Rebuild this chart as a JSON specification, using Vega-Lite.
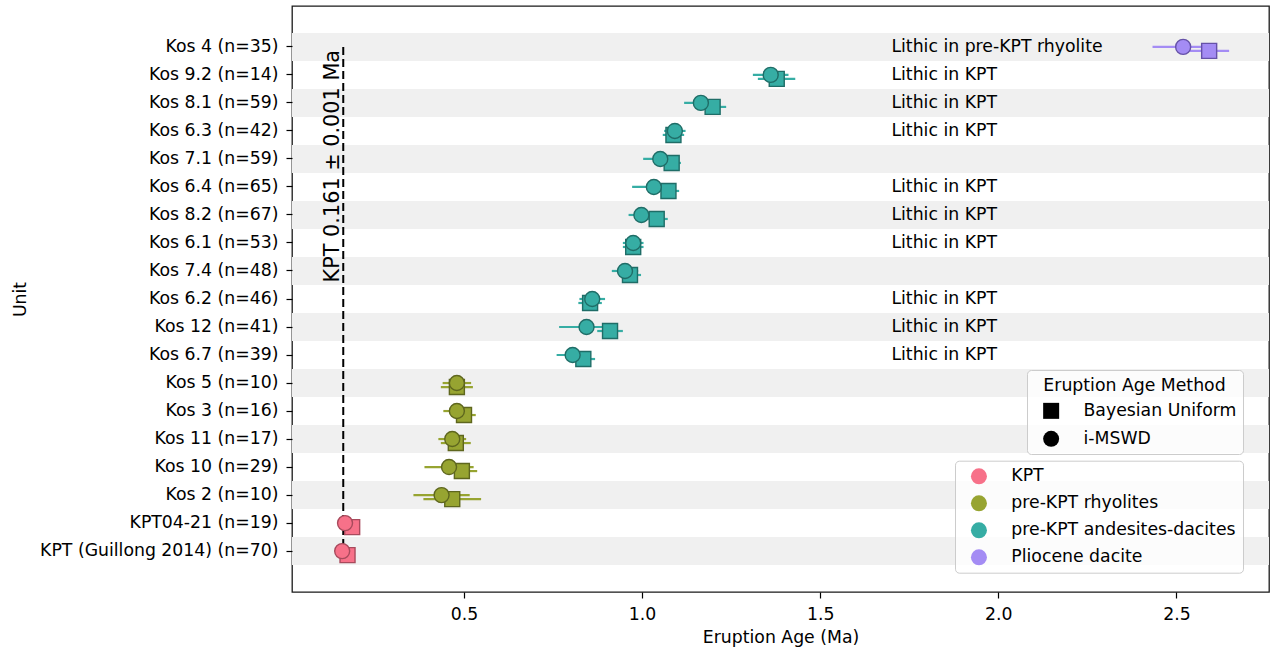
{
  "$schema": "https://vega.github.io/schema/vega-lite/v6.json",
  "width": 977,
  "height": 586,
  "autosize": {"type": "none"},
  "padding": {"left": 292, "top": 6, "right": 1, "bottom": 55},
  "background": "white",
  "datasets": {
    "units": [
      {"unit": "Kos 4 (n=35)"}, {"unit": "Kos 9.2 (n=14)"}, {"unit": "Kos 8.1 (n=59)"}, {"unit": "Kos 6.3 (n=42)"},
      {"unit": "Kos 7.1 (n=59)"}, {"unit": "Kos 6.4 (n=65)"}, {"unit": "Kos 8.2 (n=67)"}, {"unit": "Kos 6.1 (n=53)"},
      {"unit": "Kos 7.4 (n=48)"}, {"unit": "Kos 6.2 (n=46)"}, {"unit": "Kos 12 (n=41)"}, {"unit": "Kos 6.7 (n=39)"},
      {"unit": "Kos 5 (n=10)"}, {"unit": "Kos 3 (n=16)"}, {"unit": "Kos 11 (n=17)"}, {"unit": "Kos 10 (n=29)"},
      {"unit": "Kos 2 (n=10)"}, {"unit": "KPT04-21 (n=19)"}, {"unit": "KPT (Guillong 2014) (n=70)"}
    ],
    "notes": [
      {"unit": "Kos 4 (n=35)", "note": "Lithic in pre-KPT rhyolite"},
      {"unit": "Kos 9.2 (n=14)", "note": "Lithic in KPT"},
      {"unit": "Kos 8.1 (n=59)", "note": "Lithic in KPT"},
      {"unit": "Kos 6.3 (n=42)", "note": "Lithic in KPT"},
      {"unit": "Kos 6.4 (n=65)", "note": "Lithic in KPT"},
      {"unit": "Kos 8.2 (n=67)", "note": "Lithic in KPT"},
      {"unit": "Kos 6.1 (n=53)", "note": "Lithic in KPT"},
      {"unit": "Kos 6.2 (n=46)", "note": "Lithic in KPT"},
      {"unit": "Kos 12 (n=41)", "note": "Lithic in KPT"},
      {"unit": "Kos 6.7 (n=39)", "note": "Lithic in KPT"}
    ],
    "kpt": [
      {"unit": "Kos 4 (n=35)", "unit_end": "KPT (Guillong 2014) (n=70)", "age": 0.161, "label": "KPT 0.161 ± 0.001 Ma"}
    ],
    "ages": [
      {"unit": "Kos 4 (n=35)", "group": "Pliocene dacite", "method": "Bayesian Uniform", "age": 2.592, "lo": 2.536, "hi": 2.648},
      {"unit": "Kos 9.2 (n=14)", "group": "pre-KPT andesites-dacites", "method": "Bayesian Uniform", "age": 1.378, "lo": 1.325, "hi": 1.430},
      {"unit": "Kos 8.1 (n=59)", "group": "pre-KPT andesites-dacites", "method": "Bayesian Uniform", "age": 1.198, "lo": 1.160, "hi": 1.236},
      {"unit": "Kos 6.3 (n=42)", "group": "pre-KPT andesites-dacites", "method": "Bayesian Uniform", "age": 1.088, "lo": 1.058, "hi": 1.118},
      {"unit": "Kos 7.1 (n=59)", "group": "pre-KPT andesites-dacites", "method": "Bayesian Uniform", "age": 1.083, "lo": 1.057, "hi": 1.109},
      {"unit": "Kos 6.4 (n=65)", "group": "pre-KPT andesites-dacites", "method": "Bayesian Uniform", "age": 1.074, "lo": 1.044, "hi": 1.104},
      {"unit": "Kos 8.2 (n=67)", "group": "pre-KPT andesites-dacites", "method": "Bayesian Uniform", "age": 1.041, "lo": 1.010, "hi": 1.072},
      {"unit": "Kos 6.1 (n=53)", "group": "pre-KPT andesites-dacites", "method": "Bayesian Uniform", "age": 0.975, "lo": 0.946, "hi": 1.004},
      {"unit": "Kos 7.4 (n=48)", "group": "pre-KPT andesites-dacites", "method": "Bayesian Uniform", "age": 0.966, "lo": 0.935, "hi": 0.997},
      {"unit": "Kos 6.2 (n=46)", "group": "pre-KPT andesites-dacites", "method": "Bayesian Uniform", "age": 0.854, "lo": 0.821, "hi": 0.887},
      {"unit": "Kos 12 (n=41)", "group": "pre-KPT andesites-dacites", "method": "Bayesian Uniform", "age": 0.910, "lo": 0.874, "hi": 0.946},
      {"unit": "Kos 6.7 (n=39)", "group": "pre-KPT andesites-dacites", "method": "Bayesian Uniform", "age": 0.835, "lo": 0.802, "hi": 0.868},
      {"unit": "Kos 5 (n=10)", "group": "pre-KPT rhyolites", "method": "Bayesian Uniform", "age": 0.480, "lo": 0.435, "hi": 0.525},
      {"unit": "Kos 3 (n=16)", "group": "pre-KPT rhyolites", "method": "Bayesian Uniform", "age": 0.500, "lo": 0.467, "hi": 0.533},
      {"unit": "Kos 11 (n=17)", "group": "pre-KPT rhyolites", "method": "Bayesian Uniform", "age": 0.477, "lo": 0.435, "hi": 0.519},
      {"unit": "Kos 10 (n=29)", "group": "pre-KPT rhyolites", "method": "Bayesian Uniform", "age": 0.494, "lo": 0.451, "hi": 0.537},
      {"unit": "Kos 2 (n=10)", "group": "pre-KPT rhyolites", "method": "Bayesian Uniform", "age": 0.467, "lo": 0.386, "hi": 0.548},
      {"unit": "KPT04-21 (n=19)", "group": "KPT", "method": "Bayesian Uniform", "age": 0.186, "lo": 0.182, "hi": 0.190},
      {"unit": "KPT (Guillong 2014) (n=70)", "group": "KPT", "method": "Bayesian Uniform", "age": 0.173, "lo": 0.170, "hi": 0.176},
      {"unit": "Kos 4 (n=35)", "group": "Pliocene dacite", "method": "i-MSWD", "age": 2.519, "lo": 2.433, "hi": 2.605},
      {"unit": "Kos 9.2 (n=14)", "group": "pre-KPT andesites-dacites", "method": "i-MSWD", "age": 1.361, "lo": 1.311, "hi": 1.411},
      {"unit": "Kos 8.1 (n=59)", "group": "pre-KPT andesites-dacites", "method": "i-MSWD", "age": 1.165, "lo": 1.118, "hi": 1.212},
      {"unit": "Kos 6.3 (n=42)", "group": "pre-KPT andesites-dacites", "method": "i-MSWD", "age": 1.092, "lo": 1.062, "hi": 1.122},
      {"unit": "Kos 7.1 (n=59)", "group": "pre-KPT andesites-dacites", "method": "i-MSWD", "age": 1.051, "lo": 1.003, "hi": 1.099},
      {"unit": "Kos 6.4 (n=65)", "group": "pre-KPT andesites-dacites", "method": "i-MSWD", "age": 1.033, "lo": 0.972, "hi": 1.094},
      {"unit": "Kos 8.2 (n=67)", "group": "pre-KPT andesites-dacites", "method": "i-MSWD", "age": 0.998, "lo": 0.962, "hi": 1.034},
      {"unit": "Kos 6.1 (n=53)", "group": "pre-KPT andesites-dacites", "method": "i-MSWD", "age": 0.975, "lo": 0.946, "hi": 1.004},
      {"unit": "Kos 7.4 (n=48)", "group": "pre-KPT andesites-dacites", "method": "i-MSWD", "age": 0.952, "lo": 0.915, "hi": 0.989},
      {"unit": "Kos 6.2 (n=46)", "group": "pre-KPT andesites-dacites", "method": "i-MSWD", "age": 0.860, "lo": 0.824, "hi": 0.896},
      {"unit": "Kos 12 (n=41)", "group": "pre-KPT andesites-dacites", "method": "i-MSWD", "age": 0.844, "lo": 0.767, "hi": 0.921},
      {"unit": "Kos 6.7 (n=39)", "group": "pre-KPT andesites-dacites", "method": "i-MSWD", "age": 0.805, "lo": 0.760, "hi": 0.850},
      {"unit": "Kos 5 (n=10)", "group": "pre-KPT rhyolites", "method": "i-MSWD", "age": 0.480, "lo": 0.440, "hi": 0.520},
      {"unit": "Kos 3 (n=16)", "group": "pre-KPT rhyolites", "method": "i-MSWD", "age": 0.480, "lo": 0.442, "hi": 0.518},
      {"unit": "Kos 11 (n=17)", "group": "pre-KPT rhyolites", "method": "i-MSWD", "age": 0.467, "lo": 0.428, "hi": 0.506},
      {"unit": "Kos 10 (n=29)", "group": "pre-KPT rhyolites", "method": "i-MSWD", "age": 0.458, "lo": 0.389, "hi": 0.527},
      {"unit": "Kos 2 (n=10)", "group": "pre-KPT rhyolites", "method": "i-MSWD", "age": 0.437, "lo": 0.358, "hi": 0.516},
      {"unit": "KPT04-21 (n=19)", "group": "KPT", "method": "i-MSWD", "age": 0.166, "lo": 0.162, "hi": 0.170},
      {"unit": "KPT (Guillong 2014) (n=70)", "group": "KPT", "method": "i-MSWD", "age": 0.158, "lo": 0.155, "hi": 0.161}
    ]
  },
  "encoding": {
    "y": {
      "field": "unit",
      "type": "nominal",
      "title": "Unit",
      "scale": {
        "domain": ["Kos 4 (n=35)", "Kos 9.2 (n=14)", "Kos 8.1 (n=59)", "Kos 6.3 (n=42)", "Kos 7.1 (n=59)", "Kos 6.4 (n=65)", "Kos 8.2 (n=67)", "Kos 6.1 (n=53)", "Kos 7.4 (n=48)", "Kos 6.2 (n=46)", "Kos 12 (n=41)", "Kos 6.7 (n=39)", "Kos 5 (n=10)", "Kos 3 (n=16)", "Kos 11 (n=17)", "Kos 10 (n=29)", "Kos 2 (n=10)", "KPT04-21 (n=19)", "KPT (Guillong 2014) (n=70)"],
        "paddingInner": 0,
        "paddingOuter": 0.96
      },
      "axis": {"tickSize": 6, "labelPadding": 8, "titlePadding": 63, "labelLimit": 600}
    }
  },
  "layer": [
    {
      "data": {"name": "units"},
      "transform": [
        {"window": [{"op": "row_number", "as": "rn"}]},
        {"filter": "datum.rn % 2 == 1"}
      ],
      "mark": {"type": "rect", "color": "#f0f0f0"},
      "encoding": {}
    },
    {
      "data": {"name": "kpt"},
      "mark": {"type": "rule", "color": "black", "strokeWidth": 2, "strokeDash": [8, 4]},
      "encoding": {
        "x": {"field": "age", "type": "quantitative", "title": "Eruption Age (Ma)", "scale": {"domain": [0.0171, 2.76], "nice": false, "zero": false}},
        "y2": {"field": "unit_end"}
      }
    },
    {
      "data": {"name": "kpt"},
      "mark": {"type": "text", "angle": 270, "align": "right", "baseline": "alphabetic", "dx": -3, "dy": -4.5, "fontSize": 20.8, "font": "DejaVu Sans", "color": "black"},
      "encoding": {
        "x": {"field": "age", "type": "quantitative", "title": "Eruption Age (Ma)"},
        "text": {"field": "label"}
      }
    },
    {
      "data": {"name": "notes"},
      "mark": {"type": "text", "align": "left", "baseline": "middle", "fontSize": 17.3, "font": "DejaVu Sans", "color": "black"},
      "encoding": {
        "x": {"datum": 1.7, "type": "quantitative", "title": "Eruption Age (Ma)"},
        "text": {"field": "note"}
      }
    },
    {
      "data": {"name": "ages"},
      "transform": [{"filter": "datum.method == 'Bayesian Uniform'"}],
      "mark": {"type": "rule", "strokeWidth": 2.2, "yOffset": 4},
      "encoding": {
        "x": {"field": "lo", "type": "quantitative", "title": "Eruption Age (Ma)"},
        "x2": {"field": "hi"},
        "color": {"field": "group", "type": "nominal",
          "scale": {"domain": ["KPT", "pre-KPT rhyolites", "pre-KPT andesites-dacites", "Pliocene dacite"], "range": ["#f77189", "#97a431", "#36ada4", "#a48cf4"]},
          "legend": {"orient": "none", "legendX": 663, "legendY": 454.7, "title": null, "padding": 7, "symbolOffset": 8.3, "labelOffset": 23.7, "rowPadding": 9, "symbolType": "circle", "symbolStrokeWidth": 0, "symbolSize": 256, "labelLimit": 600, "fillColor": "rgba(255,255,255,0.8)", "strokeColor": "#cccccc", "cornerRadius": 4}}
      }
    },
    {
      "data": {"name": "ages"},
      "transform": [{"filter": "datum.method == 'i-MSWD'"}],
      "mark": {"type": "rule", "strokeWidth": 2.2},
      "encoding": {
        "x": {"field": "lo", "type": "quantitative", "title": "Eruption Age (Ma)"},
        "x2": {"field": "hi"},
        "color": {"field": "group", "type": "nominal",
          "legend": {"orient": "none", "legendX": 663, "legendY": 454.7, "title": null, "padding": 7, "symbolOffset": 8.3, "labelOffset": 23.7, "rowPadding": 9, "symbolType": "circle", "symbolStrokeWidth": 0, "symbolSize": 256, "labelLimit": 600, "fillColor": "rgba(255,255,255,0.8)", "strokeColor": "#cccccc", "cornerRadius": 4}}
      }
    },
    {
      "data": {"name": "ages"},
      "transform": [{"filter": "datum.method == 'Bayesian Uniform'"}],
      "mark": {"type": "point", "filled": true, "size": 225, "strokeWidth": 1.4, "opacity": 1, "yOffset": 4},
      "encoding": {
        "x": {"field": "age", "type": "quantitative", "title": "Eruption Age (Ma)"},
        "color": {"field": "group", "type": "nominal",
          "legend": {"orient": "none", "legendX": 663, "legendY": 454.7, "title": null, "padding": 7, "symbolOffset": 8.3, "labelOffset": 23.7, "rowPadding": 9, "symbolType": "circle", "symbolStrokeWidth": 0, "symbolSize": 256, "labelLimit": 600, "fillColor": "rgba(255,255,255,0.8)", "strokeColor": "#cccccc", "cornerRadius": 4}},
        "stroke": {"field": "group", "type": "nominal", "legend": null,
          "scale": {"domain": ["KPT", "pre-KPT rhyolites", "pre-KPT andesites-dacites", "Pliocene dacite"], "range": ["#a84a5c", "#5e661e", "#1f6d67", "#6652a8"]}},
        "shape": {"field": "method", "type": "nominal",
          "scale": {"domain": ["Bayesian Uniform", "i-MSWD"], "range": ["square", "circle"]},
          "legend": {"orient": "none", "legendX": 735, "legendY": 364, "title": "Eruption Age Method", "titleAnchor": "middle", "titleAlign": "center", "titlePadding": 8.4, "titleLimit": 600, "padding": 6.5, "symbolOffset": 9, "labelOffset": 23.7, "rowPadding": 10, "symbolFillColor": "black", "symbolStrokeColor": "black", "symbolStrokeWidth": 0, "symbolSize": 256, "labelLimit": 600, "fillColor": "rgba(255,255,255,0.8)", "strokeColor": "#cccccc", "cornerRadius": 4}}
      }
    },
    {
      "data": {"name": "ages"},
      "transform": [{"filter": "datum.method == 'i-MSWD'"}],
      "mark": {"type": "point", "filled": true, "size": 225, "strokeWidth": 1.4, "opacity": 1},
      "encoding": {
        "x": {"field": "age", "type": "quantitative", "title": "Eruption Age (Ma)",
          "axis": {"values": [0.5, 1, 1.5, 2, 2.5], "format": ".1f", "tickSize": 6, "labelPadding": 7, "titlePadding": 6}},
        "color": {"field": "group", "type": "nominal",
          "legend": {"orient": "none", "legendX": 663, "legendY": 454.7, "title": null, "padding": 7, "symbolOffset": 8.3, "labelOffset": 23.7, "rowPadding": 9, "symbolType": "circle", "symbolStrokeWidth": 0, "symbolSize": 256, "labelLimit": 600, "fillColor": "rgba(255,255,255,0.8)", "strokeColor": "#cccccc", "cornerRadius": 4}},
        "stroke": {"field": "group", "type": "nominal", "legend": null},
        "shape": {"field": "method", "type": "nominal",
          "legend": {"orient": "none", "legendX": 735, "legendY": 364, "title": "Eruption Age Method", "titleAnchor": "middle", "titleAlign": "center", "titlePadding": 8.4, "titleLimit": 600, "padding": 6.5, "symbolOffset": 9, "labelOffset": 23.7, "rowPadding": 10, "symbolFillColor": "black", "symbolStrokeColor": "black", "symbolStrokeWidth": 0, "symbolSize": 256, "labelLimit": 600, "fillColor": "rgba(255,255,255,0.8)", "strokeColor": "#cccccc", "cornerRadius": 4}}
      }
    }
  ],
  "config": {
    "font": "DejaVu Sans",
    "view": {"stroke": "#1a1a1a", "strokeWidth": 1.3},
    "axis": {
      "labelFont": "DejaVu Sans", "labelFontSize": 17.3, "labelColor": "#000",
      "titleFont": "DejaVu Sans", "titleFontSize": 17.3, "titleFontWeight": "normal", "titleColor": "#000",
      "tickColor": "#000", "tickWidth": 1.2, "grid": false, "domain": false, "labelLimit": 600
    },
    "legend": {
      "labelFont": "DejaVu Sans", "labelFontSize": 17.3, "labelColor": "#000", "labelLimit": 600,
      "titleFont": "DejaVu Sans", "titleFontSize": 17.3, "titleFontWeight": "normal", "titleColor": "#000", "titleLimit": 600
    }
  }
}
